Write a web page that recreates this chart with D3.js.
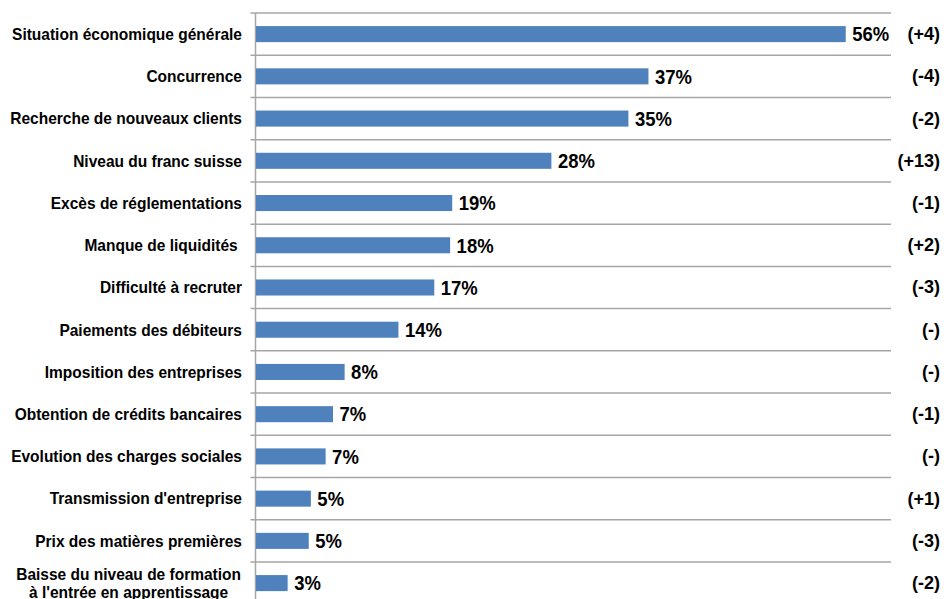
<!DOCTYPE html>
<html lang="fr">
<head>
    <meta charset="UTF-8">
    <title>Problèmes des entreprises</title>
    <script src="https://d3js.org/d3.v7.min.js"></script>
    <style>
        body { margin: 0; background: #fff; }
        text { font-family: "Liberation Sans", Arial, sans-serif; font-weight: bold; fill: #000; }
        .cat { font-size: 15.5px; }
        .val { font-size: 18.5px; }
        .chg { font-size: 18px; }
        .grid { stroke: #a6a6a6; stroke-width: 1.5px; }
    </style>
</head>
<body>
    <svg width="944" height="599"></svg>
    <script>
        const categories = [
            "Situation économique générale",
            "Concurrence",
            "Recherche de nouveaux clients",
            "Niveau du franc suisse",
            "Excès de réglementations",
            "Manque de liquidités ",
            "Difficulté à recruter",
            "Paiements des débiteurs",
            "Imposition des entreprises",
            "Obtention de crédits bancaires",
            "Evolution des charges sociales",
            "Transmission d'entreprise",
            "Prix des matières premières",
            "Baisse du niveau de formation\nà l'entrée en apprentissage"
        ];
        const values = [55.9, 37.2, 35.3, 28.0, 18.6, 18.4, 16.9, 13.5, 8.4, 7.3, 6.6, 5.2, 5.0, 3.0];
        const valueLabels = ["56%", "37%", "35%", "28%", "19%", "18%", "17%", "14%", "8%", "7%", "7%", "5%", "5%", "3%"];
        const changes = ["(+4)", "(-4)", "(-2)", "(+13)", "(-1)", "(+2)", "(-3)", "(-)", "(-)", "(-1)", "(-)", "(+1)", "(-3)", "(-2)"];

        const svg = d3.select("svg");
        const axisX = 255.5, plotTop = 13, bandH = 42.23;

        const x = d3.scaleLinear().domain([0, 60]).range([axisX, axisX + 60 * 10.55]);
        const y = d3.scaleBand().domain(d3.range(categories.length))
            .range([plotTop, plotTop + bandH * categories.length]).paddingInner(0.62).paddingOuter(0.31);

        // the source text looks slightly stretched vertically
        const stretch = (cy, k) => `translate(0,${cy}) scale(1,${k}) translate(0,${-cy})`;

        // horizontal separators between categories
        const bounds = d3.range(categories.length + 1).map(i => plotTop + i * bandH);
        svg.append("g").selectAll("line").data(bounds).join("line")
            .attr("class", "grid")
            .attr("x1", axisX - 5).attr("x2", 891)
            .attr("y1", d => d).attr("y2", d => d);

        svg.append("line").attr("class", "grid")
            .attr("x1", axisX).attr("x2", axisX)
            .attr("y1", plotTop).attr("y2", 599);

        svg.append("g").selectAll("rect").data(values).join("rect")
            .attr("x", axisX + 0.5)
            .attr("y", (d, i) => y(i))
            .attr("width", d => x(d) - axisX)
            .attr("height", y.bandwidth())
            .attr("fill", "#4f81bd");

        svg.append("g").selectAll("text").data(valueLabels).join("text")
            .attr("class", "val")
            .attr("x", (d, i) => x(values[i]) + 7)
            .attr("y", (d, i) => y(i) + y.bandwidth() / 2 + 6.5)
            .attr("transform", (d, i) => stretch(y(i) + y.bandwidth() / 2, 1.12))
            .text(d => d);

        svg.append("g").selectAll("text").data(changes).join("text")
            .attr("class", "chg")
            .attr("text-anchor", "end")
            .attr("x", 940)
            .attr("y", (d, i) => y(i) + y.bandwidth() / 2 + 6)
            .text(d => d);

        const catG = svg.append("g");
        categories.forEach((c, i) => {
            const lines = c.split("\n");
            const cy = y(i) + y.bandwidth() / 2;
            const t = catG.append("text").attr("class", "cat")
                .attr("transform", stretch(cy, 1.06));
            if (lines.length === 1) {
                t.attr("text-anchor", "end").attr("x", 242).attr("y", cy + 5.5)
                    .attr("xml:space", "preserve").style("white-space", "pre").text(c);
            } else {
                t.attr("text-anchor", "middle");
                lines.forEach((l, j) => {
                    t.append("tspan").attr("x", 0).attr("y", cy + 5.5 + (j - (lines.length - 1) / 2) * 16.5).text(l);
                });
                const w = t.node().getBBox().width;
                t.selectAll("tspan").attr("x", 241 - w / 2);
            }
        });
    </script>
</body>
</html>
